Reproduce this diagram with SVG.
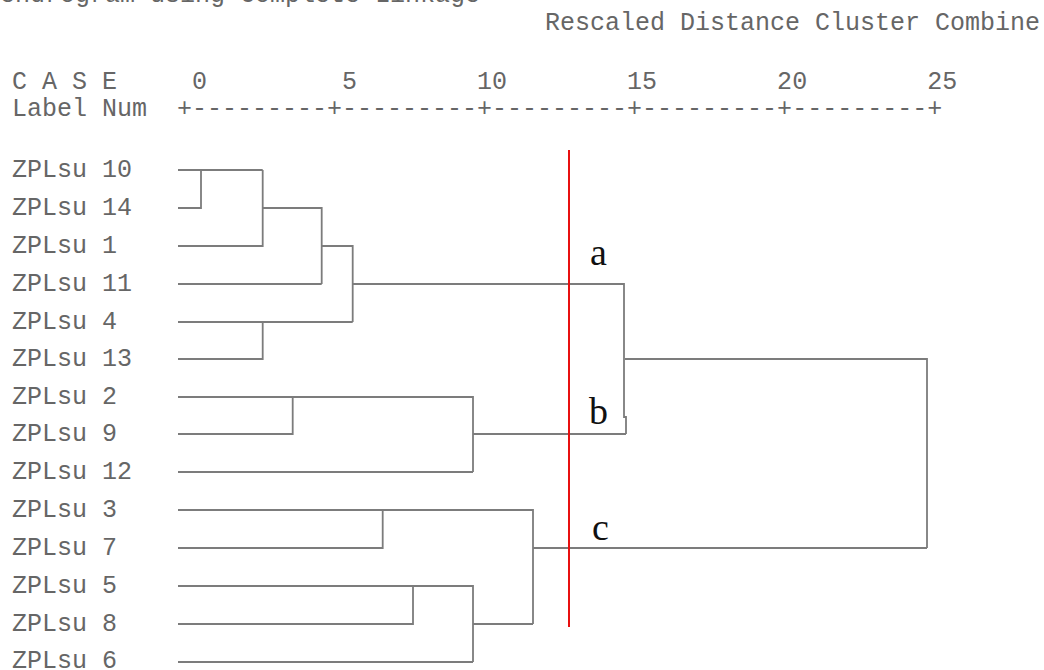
<svg xmlns="http://www.w3.org/2000/svg" width="1044" height="670" viewBox="0 0 1044 670">
<style>
.mono{font-family:"Liberation Mono","Courier New",monospace;font-size:25px;fill:#666;}
.ltr{font-family:"Liberation Serif","Times New Roman",serif;font-size:38px;fill:#111;}
.ln{fill:none;stroke:#7c7c7c;stroke-width:1.8;}
</style>
<rect width="1044" height="670" fill="#fff"/>
<g id="header">
<text class="mono" x="-15" y="2">Dendrogram using Complete Linkage</text>
<text class="mono" x="545" y="30">Rescaled Distance Cluster Combine</text>
<text class="mono" x="12" y="89" xml:space="preserve">C A S E     0         5        10        15        20        25</text>
<text class="mono" x="12" y="116" xml:space="preserve">Label Num  +---------+---------+---------+---------+---------+</text>
</g>
<g id="leaves">
<g id="case-10"><text class="mono" x="12" y="177">ZPLsu 10</text></g>
<g id="case-14"><text class="mono" x="12" y="215">ZPLsu 14</text></g>
<g id="case-1"><text class="mono" x="12" y="253">ZPLsu 1</text></g>
<g id="case-11"><text class="mono" x="12" y="291">ZPLsu 11</text></g>
<g id="case-4"><text class="mono" x="12" y="329">ZPLsu 4</text></g>
<g id="case-13"><text class="mono" x="12" y="366">ZPLsu 13</text></g>
<g id="case-2"><text class="mono" x="12" y="404">ZPLsu 2</text></g>
<g id="case-9"><text class="mono" x="12" y="441">ZPLsu 9</text></g>
<g id="case-12"><text class="mono" x="12" y="479">ZPLsu 12</text></g>
<g id="case-3"><text class="mono" x="12" y="517">ZPLsu 3</text></g>
<g id="case-7"><text class="mono" x="12" y="555">ZPLsu 7</text></g>
<g id="case-5"><text class="mono" x="12" y="593">ZPLsu 5</text></g>
<g id="case-8"><text class="mono" x="12" y="631">ZPLsu 8</text></g>
<g id="case-6"><text class="mono" x="12" y="668">ZPLsu 6</text></g>
</g>
<g id="connectors" class="ln">
<path d="M178,170 H262.7"/>
<path d="M178,208 H201 V170"/>
<path d="M178,246 H262.7 V170"/>
<path d="M262.7,208 H321.7 V284"/>
<path d="M178,284 H321.7"/>
<path d="M321.7,246 H352.7 V322"/>
<path d="M178,322 H352.7"/>
<path d="M178,359 H262.7 V322"/>
<path d="M352.7,284 H624 V417 H626 V434"/>
<path d="M178,397 H473 V472"/>
<path d="M178,434 H292.7 V397"/>
<path d="M178,472 H473"/>
<path d="M473,434 H626"/>
<path d="M625,359 H927 V548"/>
<path d="M178,510 H533 V624"/>
<path d="M178,548 H382.7 V510"/>
<path d="M178,586 H473 V662"/>
<path d="M178,624 H413 V586"/>
<path d="M178,662 H473"/>
<path d="M473,624 H533"/>
<path d="M533,548 H927"/>
</g>
<g id="cut-line">
<line x1="569" y1="150" x2="569" y2="627" stroke="#e81010" stroke-width="2"/>
</g>
<g id="cluster-a"><text class="ltr" x="590" y="265">a</text></g>
<g id="cluster-b"><text class="ltr" x="589" y="424">b</text></g>
<g id="cluster-c"><text class="ltr" x="592" y="540">c</text></g>
</svg>
